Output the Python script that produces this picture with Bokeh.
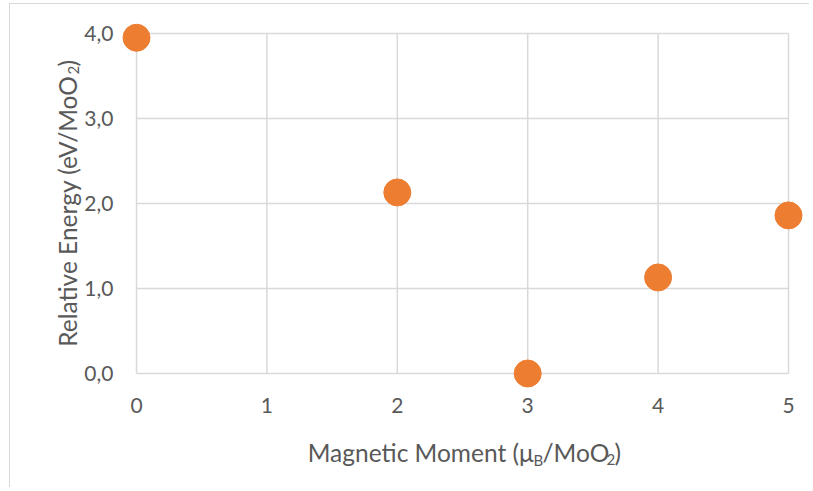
import math
from bokeh.plotting import figure
from bokeh.models import Range1d
from bokeh.embed import file_html
from bokeh.resources import INLINE
from bokeh.core.properties import value

# ---- data ----
magnetic_moment = [0, 2, 3, 4, 5]
relative_energy = [3.95, 2.13, 0.0, 1.13, 1.86]
x_ticks = [0, 1, 2, 3, 4, 5]
x_tick_labels = ["0", "1", "2", "3", "4", "5"]
y_ticks = [0, 1, 2, 3, 4]
y_tick_labels = ["0,0", "1,0", "2,0", "3,0", "4,0"]

# ---- layout (page pixels) ----
CANVAS_LEFT, CANVAS_TOP = 10, 4      # where the chart area starts on the page
W, H = 800, 484
ORIGIN_X, ORIGIN_Y = 136, 373        # page position of the data origin
PX_X, PX_Y = 130.4, 85.0             # pixels per data unit

GRID = "#d9d9d9"
TXT = "#595959"
FONT = "Lato"
ORANGE = "#ED7D31"


def dx(page_x):
    return (page_x - ORIGIN_X) / PX_X


def dy(page_y):
    return (ORIGIN_Y - page_y) / PX_Y


p = figure(width=W, height=H, output_backend="svg", toolbar_location=None,
           x_range=Range1d(dx(CANVAS_LEFT), dx(CANVAS_LEFT + W)),
           y_range=Range1d(dy(CANVAS_TOP + H), dy(CANVAS_TOP)),
           min_border=0, min_border_left=0, min_border_right=0,
           min_border_top=0, min_border_bottom=0,
           background_fill_color="white", border_fill_color="white")
p.outline_line_color = None
p.grid.visible = False
p.xaxis.visible = False
p.yaxis.visible = False
p.styles = {"margin-left": f"{CANVAS_LEFT - 1}px", "margin-top": f"{CANVAS_TOP - 1}px",
            "border-left": f"1px solid {GRID}", "border-top": f"1px solid {GRID}"}

# gridlines limited to the plot area
p.segment(x0=x_ticks, x1=x_ticks, y0=[y_ticks[0]] * len(x_ticks), y1=[y_ticks[-1]] * len(x_ticks),
          line_color=GRID, line_width=1.5, level="underlay")
p.segment(x0=[x_ticks[0]] * len(y_ticks), x1=[x_ticks[-1]] * len(y_ticks), y0=y_ticks, y1=y_ticks,
          line_color=GRID, line_width=1.5, level="underlay")

p.scatter(magnetic_moment, relative_energy, size=27, color=ORANGE, line_color=ORANGE)

# tick labels
p.text(x=x_ticks, y=[y_ticks[0]] * len(x_ticks), text=x_tick_labels, y_offset=32,
       text_font=value(FONT), text_font_size="21px", text_color=TXT,
       text_align="center", text_baseline="middle")
p.text(x=[x_ticks[0]] * len(y_ticks), y=y_ticks, text=y_tick_labels, x_offset=-23,
       text_font=value(FONT), text_font_size="21px", text_color=TXT,
       text_align="right", text_baseline="middle")


def lab(text, px, py, size, align="left", angle=0.0):
    p.text(x=[dx(px)], y=[dy(py)], text=[text], angle=angle,
           text_font=value(FONT), text_font_size=size, text_color=TXT,
           text_align=align, text_baseline="alphabetic")


# x axis title: Magnetic Moment (μB/MoO2)
lab("Magnetic Moment (μ", 533, 452, "24.5px", align="right")
lab("B", 533, 459, "15px")
lab("/MoO", 542, 452, "24.5px")
lab("2", 606, 459, "15px")
lab(")", 614, 452, "24.5px")

# y axis title: Relative Energy (eV/MoO2)
A = math.pi / 2
lab("Relative Energy (eV/MoO", 67, 75, "24.5px", align="right", angle=A)
lab("2", 73, 74, "15px", angle=A)
lab(")", 67, 66, "24.5px", angle=A)

open("out.html", "w").write(file_html(p, INLINE))
